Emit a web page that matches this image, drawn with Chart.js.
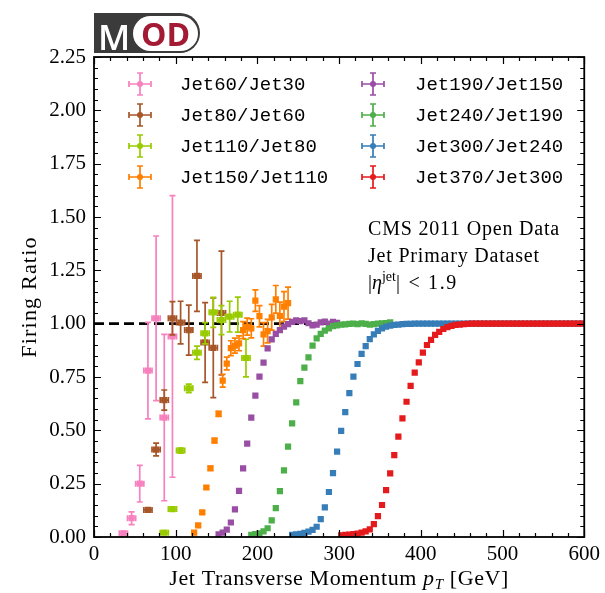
<!DOCTYPE html>
<html>
<head>
<meta charset="utf-8">
<script src="https://cdn.jsdelivr.net/npm/chart.js@4.4.0/dist/chart.umd.min.js"></script>
<style>
  html, body { margin: 0; padding: 0; background: #fff; }
  #quadro { position: relative; width: 605px; height: 593px; }
  #logo { position: absolute; left: 94px; top: 13px; width: 106px; height: 40px; background: #3b3b3b; border-radius: 0 20px 20px 0; }
  #logo .m { position: absolute; left: 4px; top: 0; line-height: 40px; color: #fff; font: 600 35px "Open Sans"; }
  #logo .od { position: absolute; left: 39px; top: 3px; width: 65px; height: 35px; border-radius: 18px; background: #fff; color: #a31a35; font: 700 32px "Open Sans"; line-height: 35px; text-align: center; }
</style>
</head>
<body>
<div id="quadro">
  <canvas id="grafico" width="605" height="593"></canvas>
  <div id="logo"><span class="m">M</span><span class="od">OD</span></div>
</div>
<script>
// Dados (pT em GeV, razão de disparo)
const nomes = ['Jet60/Jet30', 'Jet80/Jet60', 'Jet110/Jet80', 'Jet150/Jet110',
               'Jet190/Jet150', 'Jet240/Jet190', 'Jet300/Jet240', 'Jet370/Jet300'];
const cores = ['#f781bf', '#a65628', '#99cc00', '#ff7f00', '#984ea3', '#4daf4a', '#377eb8', '#e41a1c'];
const meiaLarguraBin = [5, 5, 5, 2.5, 2.5, 2.5, 2.5, 2.5];

const jet60X = [36, 46, 56, 66, 76, 86, 96];
const jet60Y = [0.017, 0.088, 0.25, 0.78, 1.025, 0.56, 0.94];
const jet60Err = [0.01, 0.03, 0.086, 0.226, 0.386, 0.39, 0.66];

const jet80X = [66, 76, 86, 96, 106, 116, 126, 136, 146, 156];
const jet80Y = [0.127, 0.41, 0.642, 1.025, 1.005, 0.97, 1.224, 0.912, 0.887, 1.05];
const jet80Err = [0.01, 0.03, 0.047, 0.078, 0.1, 0.117, 0.166, 0.187, 0.234, 0.29];

const jet110X = [86, 96, 106, 116, 126, 136, 146, 156, 166, 176, 186];
const jet110Y = [0.02, 0.131, 0.405, 0.697, 0.864, 0.955, 1.053, 1.017, 1.033, 1.042, 0.839];
const jet110Err = [0.008, 0.01, 0.012, 0.02, 0.031, 0.05, 0.07, 0.068, 0.072, 0.082, 0.088];

const jet150X = [122.5, 127.5, 132.5, 137.5, 142.5, 147.5, 152.5, 157.5, 162.5, 167.5, 172.5, 177.5,
                 182.5, 187.5, 192.5, 197.5, 202.5, 207.5, 212.5, 217.5, 222.5, 227.5, 232.5, 237.5];
const jet150Y = [0.02, 0.055, 0.115, 0.232, 0.322, 0.452, 0.577, 0.733, 0.813, 0.885, 0.897, 0.908,
                 0.97, 0.986, 0.978, 1.108, 1.035, 0.95, 0.965, 1.03, 1.114, 1.036, 1.08, 1.096];
const jet150Err = [0.005, 0.006, 0.007, 0.008, 0.009, 0.01, 0.012, 0.03, 0.03, 0.035, 0.035, 0.035,
                   0.04, 0.04, 0.045, 0.05, 0.05, 0.055, 0.055, 0.06, 0.065, 0.065, 0.07, 0.075];

const jet190X = [152.5, 157.5, 162.5, 167.5, 172.5, 177.5, 182.5, 187.5, 192.5, 197.5,
                 202.5, 207.5, 212.5, 217.5, 222.5, 227.5, 232.5, 237.5, 242.5, 247.5,
                 252.5, 257.5, 262.5, 267.5, 272.5, 277.5, 282.5, 287.5, 292.5, 297.5];
const jet190Y = [0.012, 0.02, 0.035, 0.068, 0.13, 0.216, 0.322, 0.438, 0.56, 0.663,
                 0.752, 0.817, 0.884, 0.926, 0.952, 0.97, 0.986, 0.998, 1.008, 1.015,
                 1.012, 1.016, 1.002, 0.992, 0.995, 1.006, 1.01, 1.0, 1.009, 1.004];

const jet240X = [192.5, 197.5, 202.5, 207.5, 212.5, 217.5, 222.5, 227.5, 232.5, 237.5,
                 242.5, 247.5, 252.5, 257.5, 262.5, 267.5, 272.5, 277.5, 282.5, 287.5,
                 292.5, 297.5, 302.5, 307.5, 312.5, 317.5, 322.5, 327.5, 332.5, 337.5,
                 342.5, 347.5, 352.5, 357.5, 362.5];
const jet240Y = [0.01, 0.013, 0.017, 0.026, 0.041, 0.078, 0.135, 0.215, 0.312, 0.424,
                 0.533, 0.631, 0.731, 0.794, 0.842, 0.897, 0.931, 0.952, 0.967, 0.978,
                 0.988, 0.992, 0.995, 0.997, 0.999, 1.0, 0.998, 1.001, 0.999, 0.996,
                 0.998, 1.0, 1.002, 1.003, 1.006];

const jet300X = [242.5, 247.5, 252.5, 257.5, 262.5, 267.5, 272.5, 277.5, 282.5, 287.5,
                 292.5, 297.5, 302.5, 307.5, 312.5, 317.5, 322.5, 327.5, 332.5, 337.5,
                 342.5, 347.5, 352.5, 357.5, 362.5, 367.5, 372.5, 377.5, 382.5, 387.5,
                 392.5, 397.5, 402.5, 407.5, 412.5, 417.5, 422.5, 427.5, 432.5, 437.5,
                 442.5, 447.5, 452.5, 457.5, 462.5, 467.5, 472.5, 477.5, 482.5, 487.5,
                 492.5, 497.5, 502.5, 507.5, 512.5, 517.5, 522.5, 527.5, 532.5, 537.5,
                 542.5, 547.5, 552.5, 557.5, 562.5, 567.5, 572.5, 577.5, 582.5, 587.5,
                 592.5, 597.5];
const jet300Y = [0.01, 0.012, 0.015, 0.019, 0.025, 0.033, 0.048, 0.084, 0.139, 0.211,
                 0.299, 0.4, 0.497, 0.585, 0.674, 0.752, 0.811, 0.858, 0.895, 0.928,
                 0.95, 0.966, 0.978, 0.986, 0.991, 0.994, 0.996, 0.998, 0.999, 0.999,
                 1.0, 1.0, 1.0, 1.0, 1.0, 1.0, 1.0, 1.0, 1.0, 1.0,
                 1.0, 1.0, 1.0, 1.0, 1.0, 1.0, 1.0, 1.0, 1.0, 1.0,
                 1.0, 1.0, 1.0, 1.0, 1.0, 1.0, 1.0, 1.0, 1.0, 1.0,
                 1.0, 1.0, 1.0, 1.0, 1.0, 1.0, 1.0, 1.0, 1.0, 1.0,
                 1.0, 1.0];

const jet370X = [302.5, 307.5, 312.5, 317.5, 322.5, 327.5, 332.5, 337.5, 342.5, 347.5,
                 352.5, 357.5, 362.5, 367.5, 372.5, 377.5, 382.5, 387.5, 392.5, 397.5,
                 402.5, 407.5, 412.5, 417.5, 422.5, 427.5, 432.5, 437.5, 442.5, 447.5,
                 452.5, 457.5, 462.5, 467.5, 472.5, 477.5, 482.5, 487.5, 492.5, 497.5,
                 502.5, 507.5, 512.5, 517.5, 522.5, 527.5, 532.5, 537.5, 542.5, 547.5,
                 552.5, 557.5, 562.5, 567.5, 572.5, 577.5, 582.5, 587.5, 592.5, 597.5];
const jet370Y = [0.008, 0.01, 0.011, 0.013, 0.016, 0.02, 0.026, 0.036, 0.06, 0.098,
                 0.15, 0.22, 0.298, 0.384, 0.47, 0.556, 0.634, 0.708, 0.77, 0.819,
                 0.864, 0.9, 0.924, 0.947, 0.962, 0.975, 0.984, 0.99, 0.994, 0.996,
                 0.998, 0.999, 1.0, 1.0, 1.0, 1.0, 1.0, 1.0, 1.0, 1.0,
                 1.0, 1.0, 1.0, 1.0, 1.0, 1.0, 1.0, 1.0, 1.0, 1.0,
                 1.0, 1.0, 1.0, 1.0, 1.0, 1.0, 1.0, 1.0, 1.0, 1.0];

const eixoXTicks = [0, 100, 200, 300, 400, 500, 600];
const eixoYTicks = [0, 0.25, 0.5, 0.75, 1.0, 1.25, 1.5, 1.75, 2.0, 2.25];

const todosX = [jet60X, jet80X, jet110X, jet150X, jet190X, jet240X, jet300X, jet370X];
const todosY = [jet60Y, jet80Y, jet110Y, jet150Y, jet190Y, jet240Y, jet300Y, jet370Y];
const todosErr = [jet60Err, jet80Err, jet110Err, jet150Err, null, null, null, null];

const serif = '"Liberation Serif", "DejaVu Serif", serif';

// Barras de erro: desenhadas antes dos pontos de cada série
const barrasErro = {
  id: 'barrasErro',
  beforeDatasetDraw(chart, args) {
    const ds = chart.data.datasets[args.index];
    if (ds.meiaLargura === undefined) return;
    const ctx = chart.ctx, sx = chart.scales.x, sy = chart.scales.y;
    ctx.save();
    ctx.strokeStyle = ds.backgroundColor;
    ctx.lineWidth = 1.7;
    ds.data.forEach((p, i) => {
      const px = sx.getPixelForValue(p.x), py = sy.getPixelForValue(p.y);
      const x1 = sx.getPixelForValue(p.x - ds.meiaLargura), x2 = sx.getPixelForValue(p.x + ds.meiaLargura);
      ctx.beginPath();
      ctx.moveTo(x1, py); ctx.lineTo(x2, py);
      if (ds.erroY) {
        const y1 = sy.getPixelForValue(p.y + ds.erroY[i]), y2 = sy.getPixelForValue(p.y - ds.erroY[i]);
        ctx.moveTo(px, y1); ctx.lineTo(px, y2);
        ctx.moveTo(px - 3, y1); ctx.lineTo(px + 3, y1);
        ctx.moveTo(px - 3, y2); ctx.lineTo(px + 3, y2);
        if (ds.meiaLargura > 3) {
          ctx.moveTo(x1, py - 3); ctx.lineTo(x1, py + 3);
          ctx.moveTo(x2, py - 3); ctx.lineTo(x2, py + 3);
        }
      }
      ctx.stroke();
    });
    ctx.restore();
  }
};

// Moldura e marcas de escala para dentro, nos quatro lados
const moldura = {
  id: 'moldura',
  afterDatasetsDraw(chart) {
    const ctx = chart.ctx, a = chart.chartArea, sx = chart.scales.x, sy = chart.scales.y;
    ctx.save();
    ctx.strokeStyle = '#000';
    ctx.lineWidth = 1.2;
    ctx.beginPath();
    for (let v = 0; v <= 600; v += 20) {
      const px = Math.round(sx.getPixelForValue(v)) + 0.5;
      const t = v % 100 === 0 ? 7 : 4;
      ctx.moveTo(px, a.bottom); ctx.lineTo(px, a.bottom - t);
      ctx.moveTo(px, a.top); ctx.lineTo(px, a.top + t);
    }
    for (let i = 0; i <= 45; i++) {
      const py = Math.round(sy.getPixelForValue(i * 0.05)) + 0.5;
      const t = i % 5 === 0 ? 7 : 4;
      ctx.moveTo(a.left, py); ctx.lineTo(a.left + t, py);
      ctx.moveTo(a.right, py); ctx.lineTo(a.right - t, py);
    }
    ctx.stroke();
    ctx.lineWidth = 1.8;
    ctx.strokeRect(a.left, a.top, a.right - a.left, a.bottom - a.top);
    ctx.restore();
  }
};

function desenharPartes(ctx, partes, x0, y, centro) {
  let largura = 0;
  partes.forEach(p => { ctx.font = p.fonte; largura += ctx.measureText(p.texto).width; });
  let x = centro ? x0 - largura / 2 : x0;
  partes.forEach(p => {
    ctx.font = p.fonte;
    ctx.fillText(p.texto, x, y + (p.dy || 0));
    x += ctx.measureText(p.texto).width;
  });
}

// Legenda, anotações e títulos dos eixos
const textos = {
  id: 'textos',
  afterDraw(chart) {
    const ctx = chart.ctx, a = chart.chartArea;
    ctx.save();
    ctx.fillStyle = '#000';
    ctx.textBaseline = 'alphabetic';
    ctx.textAlign = 'left';

    // legenda em duas colunas
    nomes.forEach((nome, i) => {
      const col = Math.floor(i / 4), lin = i % 4;
      const mx = col === 0 ? 140 : 373, my = 84 + lin * 31;
      ctx.strokeStyle = cores[i];
      ctx.fillStyle = cores[i];
      ctx.lineWidth = 1.7;
      ctx.beginPath();
      ctx.moveTo(mx - 11, my); ctx.lineTo(mx + 11, my);
      ctx.moveTo(mx, my - 11); ctx.lineTo(mx, my + 11);
      ctx.moveTo(mx - 3, my - 11); ctx.lineTo(mx + 3, my - 11);
      ctx.moveTo(mx - 3, my + 11); ctx.lineTo(mx + 3, my + 11);
      ctx.moveTo(mx - 11, my - 3); ctx.lineTo(mx - 11, my + 3);
      ctx.moveTo(mx + 11, my - 3); ctx.lineTo(mx + 11, my + 3);
      ctx.stroke();
      ctx.beginPath();
      ctx.arc(mx, my, 3, 0, Math.PI * 2);
      ctx.fill();
      ctx.fillStyle = '#000';
      ctx.font = '19px "Liberation Mono", "DejaVu Sans Mono", monospace';
      ctx.textBaseline = 'middle';
      ctx.fillText(nome, col === 0 ? 180 : 415, my + 1);
    });

    // anotação
    ctx.textBaseline = 'alphabetic';
    ctx.letterSpacing = '0.8px';
    ctx.font = '20px ' + serif;
    ctx.fillText('CMS 2011 Open Data', 368, 235);
    ctx.fillText('Jet Primary Dataset', 368, 262);
    ctx.letterSpacing = '0px';
    desenharPartes(ctx, [
      { texto: '|', fonte: '20px ' + serif },
      { texto: 'η', fonte: 'italic 20px ' + serif },
      { texto: 'jet', fonte: '14px ' + serif, dy: -8 },
      { texto: '|', fonte: '20px ' + serif }
    ], 368, 289, false);
    ctx.letterSpacing = '1.6px';
    ctx.font = '20px ' + serif;
    ctx.fillText(' < 1.9', 402, 289);

    // título do eixo x
    ctx.letterSpacing = '0.6px';
    desenharPartes(ctx, [
      { texto: 'Jet Transverse Momentum ', fonte: '22px ' + serif },
      { texto: 'p', fonte: 'italic 22px ' + serif },
      { texto: 'T', fonte: 'italic 15px ' + serif, dy: 4 },
      { texto: ' [GeV]', fonte: '22px ' + serif }
    ], (a.left + a.right) / 2, 585, true);

    // título do eixo y
    ctx.translate(36, (a.top + a.bottom) / 2);
    ctx.rotate(-Math.PI / 2);
    ctx.letterSpacing = '1.2px';
    ctx.font = '22px ' + serif;
    ctx.textAlign = 'center';
    ctx.fillText('Firing Ratio', 0, 0);
    ctx.restore();
  }
};

const conjuntos = nomes.map((nome, i) => ({
  label: nome,
  data: todosX[i].map((x, k) => ({ x: x, y: todosY[i][k] })),
  backgroundColor: cores[i],
  borderColor: cores[i],
  pointStyle: 'rect',
  pointRadius: 4.4,
  pointBorderWidth: 0,
  showLine: false,
  meiaLargura: meiaLarguraBin[i],
  erroY: todosErr[i],
  order: nomes.length - i
}));

// linha tracejada em 1
conjuntos.push({
  label: 'referencia',
  type: 'line',
  data: [{ x: 0, y: 1 }, { x: 600, y: 1 }],
  borderColor: '#000',
  borderWidth: 2.6,
  borderDash: [10, 5],
  pointRadius: 0,
  order: 20
});

new Chart(document.getElementById('grafico'), {
  type: 'scatter',
  data: { datasets: conjuntos },
  options: {
    responsive: false,
    animation: false,
    devicePixelRatio: 1,
    layout: { padding: { top: 57, right: 18, left: 0, bottom: 0 } },
    plugins: { legend: { display: false }, tooltip: { enabled: false } },
    scales: {
      x: {
        type: 'linear', min: 0, max: 600,
        afterFit: s => { s.height = 56; },
        afterBuildTicks: s => { s.ticks = eixoXTicks.map(v => ({ value: v })); },
        grid: { display: false, drawTicks: false },
        border: { display: false },
        ticks: { color: '#000', padding: 5, maxRotation: 0, font: { family: serif, size: 21 } }
      },
      y: {
        type: 'linear', min: 0, max: 2.25,
        afterFit: s => { s.width = 94; },
        afterBuildTicks: s => { s.ticks = eixoYTicks.map(v => ({ value: v })); },
        grid: { display: false, drawTicks: false },
        border: { display: false },
        ticks: { color: '#000', padding: 8, font: { family: serif, size: 21 }, callback: v => v.toFixed(2) }
      }
    }
  },
  plugins: [barrasErro, moldura, textos]
});
</script>
</body>
</html>
